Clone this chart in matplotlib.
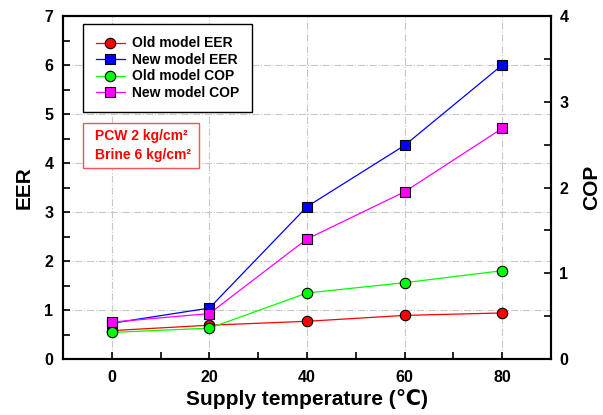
import matplotlib.pyplot as plt
from matplotlib.patches import Rectangle
from matplotlib.ticker import MultipleLocator

plt.rcParams['font.family'] = ['Liberation Sans', 'DejaVu Sans']
plt.rcParams['font.weight'] = 'bold'

temps = [0, 20, 40, 60, 80]
old_eer = [0.58, 0.69, 0.77, 0.89, 0.94]
new_eer = [0.73, 1.04, 3.11, 4.36, 6.0]
old_cop = [0.31, 0.36, 0.77, 0.89, 1.03]
new_cop = [0.43, 0.53, 1.40, 1.95, 2.69]

fig = plt.figure(figsize=(6.03, 4.15), dpi=100)
ax = fig.add_axes([0.1045, 0.1349, 0.8093, 0.8265])
ax2 = ax.twinx()

ms = 7.5
l1, = ax.plot(temps, old_eer, color='red', lw=0.9, marker='o', ms=ms,
              mfc='red', mec='black', mew=0.8, label='Old model EER')
l2, = ax.plot(temps, new_eer, color='blue', lw=0.9, marker='s', ms=ms - 0.5,
              mfc='blue', mec='black', mew=0.8, label='New model EER')
l3, = ax2.plot(temps, old_cop, color='#00ff00', lw=0.9, marker='o', ms=ms,
               mfc='#00ff00', mec='black', mew=0.8, label='Old model COP')
l4, = ax2.plot(temps, new_cop, color='magenta', lw=0.9, marker='s', ms=ms - 0.5,
               mfc='magenta', mec='black', mew=0.8, label='New model COP')

ax.set_xlim(-10, 90)
ax.set_ylim(0, 7)
ax2.set_ylim(0, 4)

ax.xaxis.set_major_locator(MultipleLocator(20))
ax.xaxis.set_minor_locator(MultipleLocator(10))
ax.yaxis.set_major_locator(MultipleLocator(1))
ax.yaxis.set_minor_locator(MultipleLocator(0.5))
ax2.yaxis.set_major_locator(MultipleLocator(1))
ax2.yaxis.set_minor_locator(MultipleLocator(0.5))

ax.grid(True, which='major', color='#c8c8c8', ls='-.', lw=0.8)
ax.set_axisbelow(True)

for a in (ax, ax2):
    for s in a.spines.values():
        s.set_linewidth(1.5)
    a.tick_params(which='both', direction='in', labelsize=11.5, width=1.2)
    a.tick_params(which='major', length=5)
    a.tick_params(which='minor', length=5)
ax.tick_params(axis='y', right=False)
ax.tick_params(axis='x', pad=8)
ax.tick_params(axis='y', pad=7)
ax2.tick_params(axis='y', pad=6)

ax.set_xlabel('Supply temperature (\u2103)', fontsize=15, fontweight='bold', labelpad=3)
ax.set_ylabel('EER', fontsize=15, fontweight='bold', labelpad=8)
ax2.set_ylabel('COP', fontsize=15, fontweight='bold', labelpad=10)

leg = ax2.legend(handles=[l1, l2, l3, l4], loc='upper left',
                 bbox_to_anchor=(0.041, 0.977), borderaxespad=0, fontsize=10,
                 frameon=True, fancybox=False, framealpha=1,
                 edgecolor='black', handlelength=2.1, borderpad=0.9,
                 labelspacing=0.18, handletextpad=0.55)
leg.get_frame().set_linewidth(1.0)

ax2.add_patch(Rectangle((0.041, 0.557), 0.238, 0.131, transform=ax.transAxes,
                        fc='white', ec='#ff5050', lw=1.0, zorder=4))
ax2.text(0.066, 0.6225, 'PCW 2 kg/cm\u00b2\nBrine 6 kg/cm\u00b2',
         transform=ax.transAxes, color='red', fontsize=10, fontweight='bold',
         ha='left', va='center', linespacing=1.4, zorder=5)

fig.savefig('out.png', dpi=100)
